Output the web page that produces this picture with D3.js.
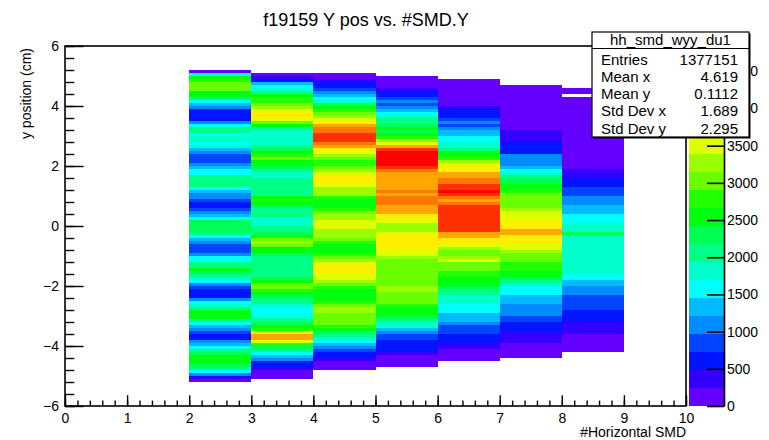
<!DOCTYPE html>
<html>
<head>
<meta charset="utf-8">
<script src="https://cdn.jsdelivr.net/npm/d3@7"></script>
<style>
  body { margin: 0; background: #fff; }
  text { font-family: "Liberation Sans", Arial, Helvetica, sans-serif; }
</style>
</head>
<body>
<svg id="hist" width="769" height="440"></svg>
<script>
// x bins (lower edge of each unit wide SMD bin) and top edge of the filled y range
const xLow = [2, 3, 4, 5, 6, 7, 8];
const yTop = [5.2, 5.1, 5.1, 5.0, 4.9, 4.7, 4.6];
const yBinWidth = 0.1;

// bin contents, top to bottom, 0.1 cm per bin
const counts_x2 = [60, 1570, 2540, 2780, 3020, 3020, 3020, 2540, 2540, 2060,
  1570, 1330, 1090, 600, 600, 600, 600, 1090, 1570, 2060,
  2060, 1570, 1810, 1810, 1570, 1810, 1330, 1090, 850, 850,
  850, 1090, 1330, 1570, 1570, 2060, 2060, 2060, 2060, 1570,
  1330, 1090, 1090, 850, 600, 600, 850, 1090, 1330, 1570,
  2300, 2300, 2300, 2300, 2060, 1570, 1330, 1090, 850, 850,
  850, 1090, 1570, 1570, 2060, 2060, 2540, 2300, 2060, 1810,
  1570, 1090, 850, 600, 600, 600, 1090, 1570, 1810, 2060,
  2540, 2540, 2540, 2060, 1570, 1330, 1090, 850, 600, 600,
  1090, 1330, 1570, 2060, 2300, 2540, 2540, 2540, 2300, 2060,
  1570, 1090, 370, 80];
const counts_x3 = [110, 370, 600, 1330, 1570, 1810, 2060, 2540, 2780, 2780,
  3020, 3270, 3510, 3750, 3750, 3510, 3020, 2540, 2060, 1810,
  1810, 1810, 1810, 1810, 2060, 2300, 2540, 2780, 3020, 2540,
  2540, 2300, 2060, 1810, 1810, 2060, 2060, 2060, 2060, 2060,
  2060, 2540, 2780, 2540, 2300, 2060, 2060, 2060, 1810, 1810,
  1810, 2060, 2060, 2300, 2540, 3020, 3270, 3020, 2540, 2540,
  2300, 2060, 2060, 2060, 2060, 2060, 2060, 2060, 2300, 2540,
  3020, 3020, 2780, 2540, 2300, 2060, 2060, 1810, 1570, 1570,
  1570, 1810, 2060, 2300, 2540, 2780, 3510, 3990, 3990, 3510,
  2780, 2300, 2060, 1570, 1330, 1090, 600, 600, 370, 110,
  110, 90];
const counts_x4 = [90, 140, 370, 600, 600, 850, 1090, 1330, 1570, 1810,
  2300, 2540, 2780, 3020, 3270, 3510, 3750, 3990, 4240, 4240,
  4480, 4480, 4480, 4240, 3990, 3750, 3510, 3270, 3020, 2780,
  2780, 3020, 3270, 3510, 3750, 3750, 3750, 3510, 3270, 3270,
  3270, 2780, 2540, 2540, 2540, 2780, 3020, 3270, 3270, 3510,
  3510, 3510, 3270, 3270, 3270, 3020, 2780, 2540, 2540, 2540,
  2780, 3020, 3270, 3510, 3750, 3750, 3750, 3510, 3510, 3270,
  3020, 2780, 2540, 2540, 2540, 2540, 2780, 3020, 3270, 3270,
  3020, 3020, 3020, 3020, 2780, 2540, 2300, 2060, 1810, 1570,
  1330, 1090, 850, 600, 600, 370, 110, 110, 80];
const counts_x5 = [90, 120, 130, 140, 370, 600, 600, 850, 1090, 850,
  1090, 1330, 1570, 1810, 2060, 2060, 2300, 2540, 2300, 2540,
  2780, 3270, 3510, 3990, 4480, 4720, 4840, 4720, 4720, 4720,
  4480, 4240, 3990, 3990, 3990, 3990, 3990, 3990, 4240, 3990,
  4240, 4240, 4240, 3990, 3990, 3990, 3750, 3750, 3510, 3270,
  3270, 3270, 3510, 3750, 3750, 3750, 3750, 3750, 3510, 3510,
  3270, 3020, 3020, 3020, 3020, 3020, 3020, 3020, 3020, 3020,
  3270, 3270, 3020, 3020, 3020, 3020, 2780, 2540, 2540, 2540,
  2300, 2060, 1810, 1810, 1330, 1090, 850, 850, 600, 600,
  600, 600, 370, 130, 120, 110, 80];
const counts_x6 = [100, 120, 130, 140, 150, 160, 170, 180, 200, 370,
  600, 600, 600, 850, 1090, 850, 1090, 1330, 1330, 1570,
  1570, 1810, 1810, 2060, 2540, 2540, 2780, 3270, 3510, 3750,
  3750, 3990, 3990, 4240, 4240, 4480, 4480, 4720, 4480, 4240,
  3990, 4240, 4480, 4480, 4480, 4480, 4480, 4480, 4480, 4480,
  4480, 3990, 3990, 3750, 3750, 3510, 3270, 3020, 3020, 3270,
  3510, 3020, 3020, 3020, 2780, 2780, 2540, 2540, 2540, 2300,
  2060, 2060, 1810, 1810, 1810, 1570, 1570, 1570, 1330, 1330,
  1330, 1090, 850, 850, 850, 600, 600, 600, 370, 370,
  200, 160, 130, 90];
const counts_x7 = [130, 150, 160, 170, 180, 190, 200, 200, 210, 210,
  220, 220, 220, 230, 230, 370, 370, 370, 370, 600,
  600, 600, 600, 1090, 1090, 1090, 1090, 1330, 1570, 1810,
  2060, 2300, 2300, 2540, 2540, 2780, 3020, 3020, 3020, 3020,
  3020, 3270, 3510, 3510, 3510, 3750, 3750, 3750, 3990, 3990,
  3750, 3750, 3750, 3510, 3510, 3270, 3020, 3020, 3020, 2780,
  2780, 2780, 2540, 2540, 2300, 2060, 1810, 1570, 1570, 1570,
  1330, 1330, 1330, 1090, 1090, 1090, 1090, 850, 850, 600,
  600, 600, 370, 370, 370, 370, 200, 170, 150, 120,
  90];
const counts_x8 = [60, 70, 0, 80, 90, 100, 110, 120, 130, 140,
  150, 160, 170, 180, 190, 200, 200, 210, 210, 220,
  220, 220, 230, 230, 230, 240, 240, 370, 370, 370,
  600, 600, 600, 850, 850, 850, 1090, 1090, 1090, 1330,
  1330, 1330, 1570, 1570, 1570, 1810, 1810, 1810, 2300, 1810,
  1810, 1810, 1810, 1810, 1810, 1810, 1810, 1810, 1810, 1810,
  1810, 1810, 1570, 1570, 1330, 1330, 1090, 1090, 1090, 850,
  850, 850, 850, 850, 600, 600, 600, 600, 370, 370,
  370, 370, 200, 180, 160, 140, 120, 90];

const xTickValues = [0, 1, 2, 3, 4, 5, 6, 7, 8, 9, 10];
const yTickValues = [-6, -4, -2, 0, 2, 4, 6];
const zTickValues = [0, 500, 1000, 1500, 2000, 2500, 3000, 3500, 4000, 4500];

const statsName = 'hh_smd_wyy_du1';
const statsLabels = ['Entries', 'Mean x', 'Mean y', 'Std Dev x', 'Std Dev y'];
const statsValues = ['1377151', '4.619', '0.1112', '1.689', '2.295'];

const title = 'f19159 Y pos vs. #SMD.Y';
const xTitle = '#Horizontal SMD';
const yTitle = 'y position (cm)';

let svg = d3.select('#hist');
let fLeft = 65, fRight = 686, fTop = 46, fBottom = 406;

let xScale = d3.scaleLinear().domain([0, 10]).range([fLeft, fRight]);
let yScale = d3.scaleLinear().domain([-6, 6]).range([fBottom, fTop]);

let columns = [counts_x2, counts_x3, counts_x4, counts_x5, counts_x6, counts_x7, counts_x8];
let zMax = d3.max(columns, function (c) {return d3.max(c);});

// ROOT pretty palette (50 colours), 20 contour levels
let nCont = 20, nCol = 50;
function levelColor(v) {
    let lev = Math.min(nCont - 1, Math.floor(v / (zMax / nCont)));
    let tc = Math.floor((lev + 0.99) * nCol / nCont);
    return d3.hsl(280 - (tc + 1) * (280 / nCol), 1, 0.5).toString();
}

// 2D bins
columns.forEach(function (vals, ci) {
    let bins = vals.map(function (v, i) {return {v: v, y1: yTop[ci] - i * yBinWidth};})
        .filter(function (d) {return d.v > 0;});
    svg.append('g')
        .selectAll('rect')
        .data(bins)
        .enter()
        .append('rect')
        .attr('x', xScale(xLow[ci]))
        .attr('width', xScale(xLow[ci] + 1) - xScale(xLow[ci]))
        .attr('y', function (d) {return yScale(d.y1);})
        .attr('height', function (d) {return yScale(d.y1 - yBinWidth) - yScale(d.y1);})
        .attr('fill', function (d) {return levelColor(d.v);})
        .attr('shape-rendering', 'crispEdges');
});

// axes, ticks drawn inward like ROOT
let xMajor = d3.axisBottom(xScale).tickValues(xTickValues).tickSizeInner(-10.8).tickSizeOuter(0).tickPadding(7);
let xMinor = d3.axisBottom(xScale).tickValues(d3.range(0, 10.001, 0.2)).tickSizeInner(-5.4).tickSizeOuter(0).tickFormat('');
let yMajor = d3.axisLeft(yScale).tickValues(yTickValues).tickSizeInner(-18.6).tickSizeOuter(0).tickPadding(6);
let yMinor = d3.axisLeft(yScale).tickValues(d3.range(-6, 6.001, 0.4)).tickSizeInner(-9.3).tickSizeOuter(0).tickFormat('');

function styleAxis(g) {
    g.select('.domain').remove();
    g.selectAll('line').attr('stroke', '#000').attr('stroke-width', 1.4);
    g.selectAll('text').attr('font-size', 14).attr('fill', '#000')
        .attr('font-family', '"Liberation Sans", Arial, sans-serif');
}
svg.append('g').attr('transform', `translate(0,${fBottom})`).call(xMinor).call(styleAxis);
svg.append('g').attr('transform', `translate(0,${fBottom})`).call(xMajor).call(styleAxis);
svg.append('g').attr('transform', `translate(${fLeft},0)`).call(yMinor).call(styleAxis);
svg.append('g').attr('transform', `translate(${fLeft},0)`).call(yMajor).call(styleAxis);

// frame
svg.append('rect')
    .attr('x', fLeft).attr('y', fTop)
    .attr('width', fRight - fLeft).attr('height', fBottom - fTop)
    .attr('fill', 'none').attr('stroke', '#000').attr('stroke-width', 1.6);

// palette
let palLeft = 689, palRight = 724;
let zScale = d3.scaleLinear().domain([0, zMax]).range([fBottom, fTop]);
svg.append('g')
    .selectAll('rect')
    .data(d3.range(nCont))
    .enter()
    .append('rect')
    .attr('x', palLeft)
    .attr('width', palRight - palLeft)
    .attr('y', function (j) {return zScale((j + 1) * zMax / nCont);})
    .attr('height', function (j) {return zScale(j * zMax / nCont) - zScale((j + 1) * zMax / nCont);})
    .attr('fill', function (j) {return levelColor((j + 0.5) * zMax / nCont);})
    .attr('shape-rendering', 'crispEdges');
let zAxis = d3.axisRight(zScale).tickValues(zTickValues).tickSizeInner(-17).tickSizeOuter(0).tickPadding(3).tickFormat(d3.format('d'));
let zg = svg.append('g').attr('transform', `translate(${palRight},0)`).call(zAxis);
zg.select('.domain').attr('stroke', '#000').attr('stroke-width', 1.6);
zg.selectAll('line').attr('stroke', '#000').attr('stroke-width', 1.6);
zg.selectAll('text').attr('font-size', 14).attr('fill', '#000')
    .attr('font-family', '"Liberation Sans", Arial, sans-serif');

// titles
svg.append('text')
    .attr('x', 366).attr('y', 26)
    .attr('text-anchor', 'middle').attr('font-size', 18)
    .text(title);
svg.append('text')
    .attr('x', fRight).attr('y', 437)
    .attr('text-anchor', 'end').attr('font-size', 14)
    .text(xTitle);
svg.append('text')
    .attr('transform', `translate(31,${fTop + 2}) rotate(-90)`)
    .attr('text-anchor', 'end').attr('font-size', 14)
    .text(yTitle);

// stats box
let sx = 592, sy = 32, sw = 157, sh = 105, rowH = 17.3;
svg.append('rect').attr('x', sx + 1.5).attr('y', sy + 1.5).attr('width', sw).attr('height', sh).attr('fill', '#000');
svg.append('rect').attr('x', sx).attr('y', sy).attr('width', sw).attr('height', sh)
    .attr('fill', '#fff').attr('stroke', '#000').attr('stroke-width', 1.2);
svg.append('line').attr('x1', sx).attr('x2', sx + sw).attr('y1', 48.5).attr('y2', 48.5)
    .attr('stroke', '#000').attr('stroke-width', 1.2);
svg.append('text').attr('x', sx + sw / 2).attr('y', 45).attr('text-anchor', 'middle')
    .attr('font-size', 15).text(statsName);
let rows = svg.append('g').selectAll('g').data(statsLabels).enter().append('g');
rows.append('text')
    .attr('x', sx + 9)
    .attr('y', function (d, i) {return 64.5 + i * rowH;})
    .attr('font-size', 15)
    .text(function (d) {return d;});
rows.append('text')
    .attr('x', sx + sw - 11)
    .attr('y', function (d, i) {return 64.5 + i * rowH;})
    .attr('text-anchor', 'end')
    .attr('font-size', 15)
    .text(function (d, i) {return statsValues[i];});
</script>
</body>
</html>
